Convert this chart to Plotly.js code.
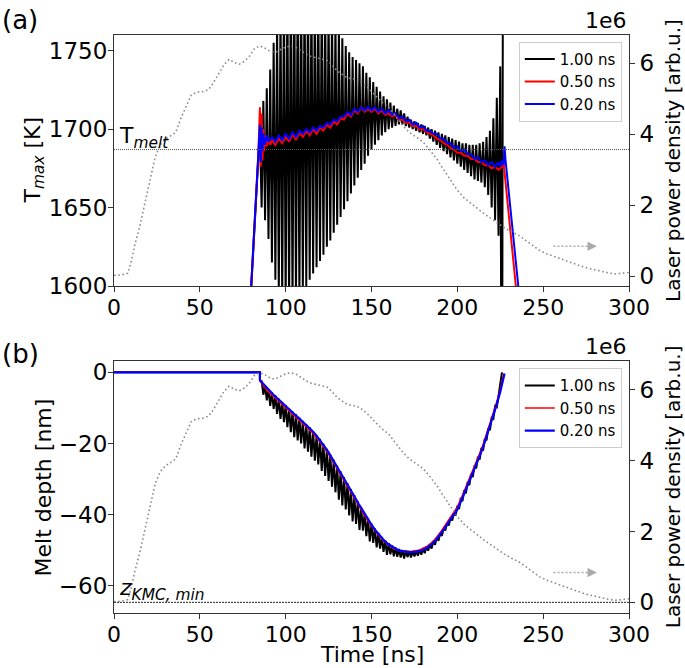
<!DOCTYPE html>
<html>
<head>
<meta charset="utf-8">
<script src="https://cdn.plot.ly/plotly-3.0.1.min.js"></script>
<style>html,body{margin:0;padding:0;background:#fff;}#chart{width:685px;height:668px;}</style>
</head>
<body>
<div id="chart"></div>
<script>
// ---------------- DATA ----------------
const seriesNames = ["1.00 ns", "0.50 ns", "0.20 ns"];
const tickX = [0, 50, 100, 150, 200, 250, 300];
const tickT = [1600, 1650, 1700, 1750];
const tickD = [-60, -40, -20, 0];
const tickP = [0, 2, 4, 6];
const tMelt = 1687;
const zKmcMin = -64.6;

// Laser power density (units of 1e6, arb.u.)
const laserTime = [0,4,8,10,12,15,18,21,24,27,30,33,36,39,42,45,48,52,55,58,61,64,67,70,73,76,79,82,85,88,91,94,97,100,103,106,109,112,115,118,121,124,127,130,133,136,140,143,147,150,153,156,160,164,168,172,176,180,184,188,192,196,200,204,208,212,216,220,224,228,232,236,240,244,248,252,256,260,264,268,272,276,280,284,288,292,296,300];
const laserPower = [0.02,0.03,0.08,0.4,0.85,1.4,2.05,2.7,3.35,3.7,3.85,3.95,4.05,4.45,4.8,5.1,5.18,5.2,5.25,5.45,5.7,5.95,6.1,6.02,5.97,6.05,6.2,6.42,6.48,6.42,6.33,6.3,6.38,6.45,6.48,6.44,6.35,6.25,6.18,6.15,6.12,6.08,5.95,5.78,5.68,5.58,5.55,5.5,5.35,5.2,5.05,4.9,4.75,4.5,4.25,4.05,3.92,3.78,3.55,3.3,3.0,2.7,2.42,2.2,2.04,1.9,1.74,1.61,1.47,1.34,1.24,1.14,1.0,0.85,0.72,0.63,0.56,0.48,0.4,0.34,0.28,0.22,0.17,0.13,0.09,0.06,0.07,0.1];

// (a) T_max [K]
const tBlackA = [70,80,84,85,86,87,88,89,90,91,92,93,94,95,96,97,98,99,100,101,102,103,104,105,106,107,108,109,110,111,112,113,114,115,116,117,118,119,120,121,122,123,124,125,126,127,128,129,130,131,132,133,134,135,136,137,138,139,140,141,142,143,144,145,146,147,148,149,150,151,152,153,154,155,156,157,158,159,160,161,162,163,164,165,166,167,168,169,170,171,172,173,174,175,176,177,178,179,180,181,182,183,184,185,186,187,188,189,190,191,192,193,194,195,196,197,198,199,200,201,202,203,204,205,206,207,208,209,210,211,212,213,214,215,216,217,218,219,220,221,222,223,224,225,226,227];
const tempBlack = [1400,1600,1682,1700,1650,1718,1642,1726,1630,1738,1615,1755,1604,1770,1595,1780,1590,1790,1586,1795,1585,1800,1586,1800,1588,1800,1591,1798,1595,1796,1600,1794,1604,1792,1608,1790,1612,1788,1616,1785,1620,1782,1625,1778,1629,1774,1634,1769,1639,1764,1644,1758,1649,1753,1654,1749,1659,1746,1664,1744,1669,1742,1674,1740,1678,1736,1683,1733,1687,1730,1690,1727,1693,1724,1696,1721,1698,1719,1700,1717,1701,1715,1702,1713,1703,1712,1703,1710,1702,1708,1701,1706,1700,1705,1699,1704,1698,1703,1697,1702,1696,1701,1694,1700,1692,1699,1690,1698,1688,1697,1686,1696,1684,1695,1682,1694,1680,1693,1678,1692,1676,1691,1674,1691,1672,1690,1670,1690,1668,1690,1667,1691,1666,1692,1663,1695,1658,1699,1650,1707,1642,1720,1632,1740,1450,2100];

const tRedA = [70,80,82,84,85,85.5,86,86.5,87,87.5,88,89,90,91,92,94,96,98,100,102,104,106,108,110,112,114,116,118,120,122,124,126,128,130,132,134,136,138,140,142,144,146,148,150,152,154,156,158,160,162,164,166,168,170,172,174,176,178,180,182,184,186,188,190,192,194,196,198,200,202,204,206,208,210,212,214,216,218,220,222,224,226,227,234,240];
const tempRed = [1400,1600,1641,1682,1714,1676,1710,1680,1700,1686,1696,1689,1694,1690,1693,1690,1694,1691,1695,1692,1697,1693,1698,1695,1699,1696,1700,1697,1701,1699,1703,1701,1705,1703,1707,1706,1710,1708,1712,1710,1714,1711,1713,1711,1713,1710,1712,1709,1710,1708,1709,1706,1706,1704,1704,1702,1702,1700,1700,1698,1697,1696,1694,1693,1691,1690,1688,1687,1685,1685,1683,1683,1681,1681,1679,1679,1677,1677,1675,1676,1674,1676,1678,1598,1535];

const tBlueA = [70,80,82,84,85,85.5,86,86.5,87,88,89,90,92,94,96,98,100,102,104,106,108,110,112,114,116,118,120,122,124,126,128,130,132,134,136,138,140,142,144,146,148,150,152,154,156,158,160,162,164,166,168,170,172,174,176,178,180,182,184,186,188,190,192,194,196,198,200,202,204,206,208,210,212,214,216,218,220,222,224,225,226,227,227.5,228,236,242];
const tempBlue = [1400,1600,1641,1682,1703,1679,1701,1686,1697,1690,1696,1692,1695,1692,1696,1693,1697,1694,1698,1695,1699,1697,1700,1698,1701,1699,1702,1701,1704,1703,1706,1705,1708,1708,1711,1709,1713,1711,1714,1712,1714,1712,1714,1711,1713,1710,1712,1709,1710,1707,1708,1705,1706,1703,1704,1701,1702,1699,1699,1697,1697,1694,1694,1691,1691,1688,1689,1686,1687,1684,1684,1681,1682,1679,1680,1677,1679,1676,1679,1676,1680,1677,1689,1681,1595,1530];

// (b) Melt depth [nm]
const tBlackB = [0,85,85,86,87,88,89,90,91,92,93,94,95,96,97,98,99,100,101,102,103,104,105,106,107,108,109,110,111,112,113,114,115,116,117,118,119,120,121,122,123,124,125,126,127,128,129,130,131,132,133,134,135,136,137,138,139,140,141,142,143,144,145,146,147,148,149,150,151,152,153,154,155,156,157,158,159,160,161,162,163,164,165,166,167,168,169,170,171,172,173,174,175,176,177,178,179,180,181,182,183,184,185,186,187,188,189,190,191,192,193,194,195,196,197,198,199,200,201,202,203,204,205,206,207,208,209,210,211,212,213,214,215,216,217,218,219,220,221,222,223,224,225,226];
const depthBlack = [0,0,-2.2,-2.5,-6.3,-3.6,-7.9,-4.7,-9.4,-5.6,-10.3,-6.5,-11.7,-7.4,-13.1,-8.3,-14.0,-9.2,-15.4,-10.1,-16.8,-11.0,-18.2,-11.8,-19.1,-12.7,-20.0,-13.6,-21.4,-14.5,-22.3,-15.4,-23.7,-16.5,-24.8,-17.6,-25.9,-18.7,-27.7,-20.1,-29.1,-21.5,-30.5,-23.0,-32.1,-24.6,-33.7,-26.2,-35.8,-27.8,-37.4,-29.4,-38.5,-31.1,-40.2,-32.8,-41.9,-34.5,-42.6,-36.2,-44.3,-37.9,-44.5,-39.5,-46.0,-41.0,-47.5,-42.5,-47.9,-43.8,-49.2,-45.1,-49.5,-46.2,-50.4,-47.1,-51.3,-48.0,-51.1,-48.6,-51.7,-49.2,-51.8,-49.6,-52.0,-49.9,-52.3,-50.1,-51.9,-50.2,-52.0,-50.2,-51.7,-50.2,-51.5,-49.9,-51.2,-49.6,-50.8,-49.0,-50.1,-48.3,-49.5,-47.5,-48.4,-46.4,-47.3,-45.3,-45.9,-43.9,-44.4,-42.4,-43.0,-41.0,-41.6,-39.6,-40.2,-37.5,-38.4,-35.3,-36.2,-33.1,-34.0,-30.8,-31.7,-28.5,-29.4,-26.2,-27.0,-23.7,-24.5,-21.2,-22.0,-18.6,-19.1,-15.7,-16.2,-12.8,-13.1,-9.5,-9.8,-6.2,-4.0,0.0];

const tRedB = [0,85,85,87.5,90,92.5,95,97.5,100,102.5,105,107.5,110,112.5,115,117.5,120,122.5,125,127.5,130,132.5,135,137.5,140,142.5,145,147.5,150,152.5,155,157.5,160,162.5,165,167.5,170,172.5,175,177.5,180,182.5,185,187.5,190,192.5,195,197.5,200,202.5,205,207.5,210,212.5,215,217.5,220,222.5,225,227];
const depthRed = [0,0,-2.5,-4.1,-5.5,-6.6,-7.7,-8.9,-10.0,-11.1,-12.2,-13.3,-14.4,-15.5,-16.7,-18.0,-19.5,-21.2,-23.0,-25.0,-27.0,-29.0,-31.0,-33.2,-35.3,-37.4,-39.5,-41.4,-43.2,-44.9,-46.3,-47.6,-48.6,-49.4,-49.9,-50.3,-50.2,-50.4,-50.1,-50.0,-49.4,-48.8,-47.8,-46.6,-45.0,-43.2,-41.3,-39.6,-37.8,-35.1,-32.3,-29.5,-26.5,-23.4,-20.3,-16.7,-13.1,-9.0,-4.9,-0.4];

const tBlueB = [0,85,85,87.5,90,92.5,95,97.5,100,102.5,105,107.5,110,112.5,115,117.5,120,122.5,125,127.5,130,132.5,135,137.5,140,142.5,145,147.5,150,152.5,155,157.5,160,162.5,165,167.5,170,172.5,175,177.5,180,182.5,185,187.5,190,192.5,195,197.5,200,202.5,205,207.5,210,212.5,215,217.5,220,222.5,225,227.5];
const depthBlue = [0,0,-2.2,-3.6,-5.0,-6.1,-7.2,-8.4,-9.5,-10.6,-11.7,-12.8,-13.9,-15.0,-16.2,-17.5,-19.0,-20.7,-22.5,-24.5,-26.5,-28.5,-30.5,-32.7,-34.8,-36.9,-39.0,-41.0,-42.8,-44.5,-46.0,-47.3,-48.3,-49.1,-49.8,-50.2,-50.4,-50.5,-50.5,-50.3,-49.9,-49.2,-48.3,-47.1,-45.6,-43.9,-42.0,-40.3,-38.5,-35.8,-33.0,-30.2,-27.2,-24.1,-21.0,-17.4,-13.8,-9.7,-5.5,-0.3];

// ---------------- STYLE ----------------
const FONT = "DejaVu Sans";
const colors = ["#000000", "#ff0000", "#0000ff"];
const laserStyle = {color: "#8c8c8c", width: 1.6, dash: "1.6px,2.6px"};
const arrowColor = "#aaaaaa";

function axisBase(extra) {
  return Object.assign({
    showline: true, mirror: true, linecolor: "#333", linewidth: 1,
    ticks: "outside", ticklen: 5, tickwidth: 1, tickcolor: "#333",
    showgrid: false, zeroline: false, automargin: false,
    tickfont: {family: FONT, size: 23, color: "#000"}
  }, extra);
}
const xTickFont = {family: FONT, size: 22, color: "#000"};

const traces = [
  {x: laserTime, y: laserPower, xaxis: "x", yaxis: "y2", mode: "lines", line: laserStyle, showlegend: false, hoverinfo: "skip"},
  {x: tBlackA, y: tempBlack, xaxis: "x", yaxis: "y", mode: "lines", name: seriesNames[0], line: {color: colors[0], width: 2}, legend: "legend"},
  {x: tRedA, y: tempRed, xaxis: "x", yaxis: "y", mode: "lines", name: seriesNames[1], line: {color: colors[1], width: 2}, legend: "legend"},
  {x: tBlueA, y: tempBlue, xaxis: "x", yaxis: "y", mode: "lines", name: seriesNames[2], line: {color: colors[2], width: 2}, legend: "legend"},

  {x: laserTime, y: laserPower, xaxis: "x2", yaxis: "y4", mode: "lines", line: laserStyle, showlegend: false, hoverinfo: "skip"},
  {x: tBlackB, y: depthBlack, xaxis: "x2", yaxis: "y3", mode: "lines", name: seriesNames[0], line: {color: colors[0], width: 2}, legend: "legend2"},
  {x: tRedB, y: depthRed, xaxis: "x2", yaxis: "y3", mode: "lines", name: seriesNames[1], line: {color: colors[1], width: 1.5}, legend: "legend2"},
  {x: tBlueB, y: depthBlue, xaxis: "x2", yaxis: "y3", mode: "lines", name: seriesNames[2], line: {color: colors[2], width: 2.2}, legend: "legend2"}
];

const legendStyle = {
  xanchor: "right", yanchor: "top", bgcolor: "rgba(255,255,255,0.85)",
  bordercolor: "#cccccc", borderwidth: 1, font: {family: FONT, size: 15, color: "#000"},
  tracegroupgap: 0
};

function arrowShapes(xref, yref) {
  return [
    {type: "line", xref: xref, yref: yref, x0: 256, x1: 276, y0: 0.84, y1: 0.84, line: {color: arrowColor, width: 1.5, dash: "2px,2px"}},
    {type: "path", xref: xref, yref: yref, path: "M 276 0.72 L 281 0.84 L 276 0.96 Z", fillcolor: arrowColor, line: {color: arrowColor, width: 0.5}}
  ];
}

const layout = {
  width: 685, height: 668,
  margin: {l: 114, r: 56, t: 35, b: 10, pad: 0},
  paper_bgcolor: "#ffffff", plot_bgcolor: "#ffffff",
  font: {family: FONT, size: 22, color: "#000"},
  showlegend: true,
  xaxis: axisBase({domain: [0, 1], anchor: "y", range: [0, 300], tickvals: tickX, tickfont: xTickFont, ticklabelstandoff: -3}),
  yaxis: axisBase({domain: [0.5971, 1], anchor: "x", range: [1600, 1760], tickvals: tickT, ticklabelstandoff: -4}),
  yaxis2: axisBase({overlaying: "y", side: "right", anchor: "x", range: [-0.28, 6.79], tickvals: tickP, mirror: false,
    title: {text: "Laser power density [arb.u.]", font: {family: FONT, size: 20}, standoff: 12}}),
  xaxis2: axisBase({domain: [0, 1], anchor: "y3", range: [0, 300], tickvals: tickX, tickfont: xTickFont, ticklabelstandoff: -3}),
  yaxis3: axisBase({domain: [0.0722, 0.4772], anchor: "x2", range: [-67.6, 3.26], tickvals: tickD, ticklabelstandoff: -4}),
  yaxis4: axisBase({overlaying: "y3", side: "right", anchor: "x2", range: [-0.30, 6.82], tickvals: tickP, mirror: false,
    title: {text: "Laser power density [arb.u.]", font: {family: FONT, size: 20}, standoff: 12}}),
  legend: Object.assign({x: 0.986, y: 0.9892}, legendStyle),
  legend2: Object.assign({x: 0.986, y: 0.465}, legendStyle),
  shapes: [
    {type: "line", xref: "x domain", yref: "y", x0: 0, x1: 1, y0: tMelt, y1: tMelt, line: {color: "#555", width: 1, dash: "1px,1px"}},
    {type: "line", xref: "x2 domain", yref: "y3", x0: 0, x1: 1, y0: zKmcMin, y1: zKmcMin, line: {color: "#222", width: 1, dash: "2px,1px"}}
  ].concat(arrowShapes("x", "y2"), arrowShapes("x2", "y4")),
  annotations: [
    {x: -0.1553, y: 0.7986, xref: "paper", yref: "paper", text: "T<sub><i>max</i></sub> [K]", textangle: -90, showarrow: false, xanchor: "center", yanchor: "middle", font: {family: FONT, size: 22}},
    {x: -0.1369, y: 0.2745, xref: "paper", yref: "paper", text: "Melt depth [nm]", textangle: -90, showarrow: false, xanchor: "center", yanchor: "middle", font: {family: FONT, size: 22}},
    {x: 0.5, y: -0.01605, xref: "paper", yref: "paper", text: "Time [ns]", showarrow: false, xanchor: "center", yanchor: "bottom", borderpad: 0, font: {family: FONT, size: 22}},
    {x: 1.5, y: tMelt, xref: "x", yref: "y", text: "T<sub><i>melt</i></sub>", showarrow: false, xanchor: "left", yanchor: "bottom", yshift: -4, font: {family: FONT, size: 22}},
    {x: 1.5, y: zKmcMin, xref: "x2", yref: "y3", text: "<i>z</i><sub><i>KMC, min</i></sub>", showarrow: false, xanchor: "left", yanchor: "bottom", yshift: -4, font: {family: FONT, size: 22}},
    {x: 1, y: 1, xref: "paper", yref: "paper", text: "1e6", showarrow: false, xanchor: "right", yanchor: "bottom", font: {family: FONT, size: 22}},
    {x: 1, y: 0.4772, xref: "paper", yref: "paper", text: "1e6", showarrow: false, xanchor: "right", yanchor: "bottom", font: {family: FONT, size: 22}},
    {x: -0.2214, y: 1.0514, xref: "paper", yref: "paper", text: "(a)", showarrow: false, xanchor: "left", yanchor: "top", font: {family: FONT, size: 26}},
    {x: -0.2214, y: 0.5152, xref: "paper", yref: "paper", text: "(b)", showarrow: false, xanchor: "left", yanchor: "top", font: {family: FONT, size: 26}}
  ]
};

Plotly.newPlot("chart", traces, layout, {displayModeBar: false, staticPlot: true});
</script>
</body>
</html>
